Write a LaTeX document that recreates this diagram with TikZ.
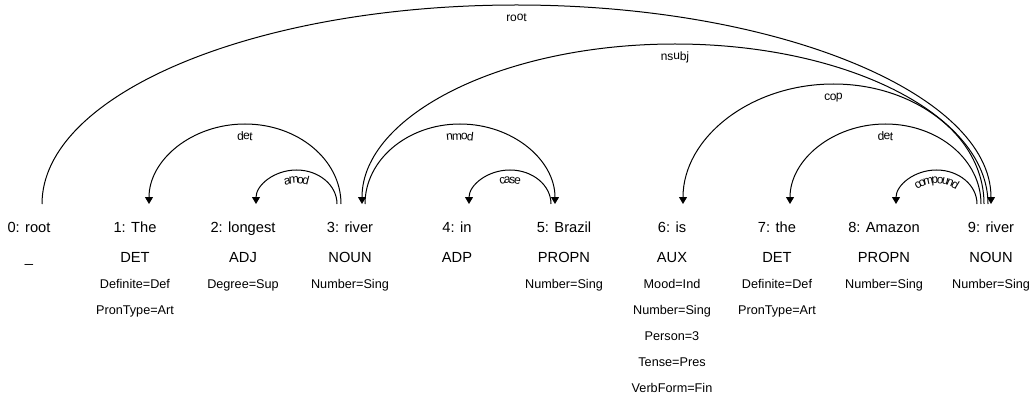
\documentclass[tikz,border=0pt]{standalone}
\usepackage{fontspec}
\setmainfont{Liberation Sans}
\usetikzlibrary{arrows.meta,decorations.text}
\newcommand\labfont{\fontsize{9}{9}\selectfont}
\begin{document}
\begin{tikzpicture}[x=0.75pt,y=-0.75pt,
  word/.style={inner sep=0pt,anchor=base,font=\fontsize{11}{13}\selectfont},
  feat/.style={inner sep=0pt,anchor=base,font=\fontsize{9.5}{11}\selectfont},
  dep/.style={line width=0.75pt,-{Triangle[length=5.25pt,width=6pt]}},
  lab/.style={decorate,decoration={text along path,text align=center,raise=-12pt,text={|\labfont|#1}}},
  slab/.style={decorate,decoration={text along path,text align=center,raise=-10pt,text={|\labfont|#1}}}]
\useasboundingbox (0,0) rectangle (1031,406);
% words
\node[word] (w0) at (29,232) {0: root};
\node[word] (w1) at (135,232) {1: The};
\node[word] (w2) at (243,232) {2: longest};
\node[word] (w3) at (350,232) {3: river};
\node[word] (w4) at (457,232) {4: in};
\node[word] (w5) at (564,232) {5: Brazil};
\node[word] (w6) at (672,232) {6: is};
\node[word] (w7) at (777,232) {7: the};
\node[word] (w8) at (884,232) {8: Amazon};
\node[word] (w9) at (991,232) {9: river};
% POS
\node[word] (p0) at (29,262) {\_};
\node[word] (p1) at (135,262) {DET};
\node[word] (p2) at (243,262) {ADJ};
\node[word] (p3) at (350,262) {NOUN};
\node[word] (p4) at (457,262) {ADP};
\node[word] (p5) at (564,262) {PROPN};
\node[word] (p6) at (672,262) {AUX};
\node[word] (p7) at (777,262) {DET};
\node[word] (p8) at (884,262) {PROPN};
\node[word] (p9) at (991,262) {NOUN};
% features
\node[feat] (f1a) at (135,288) {Definite=Def};
\node[feat] (f1b) at (135,314) {PronType=Art};
\node[feat] (f2a) at (243,288) {Degree=Sup};
\node[feat] (f3a) at (350,288) {Number=Sing};
\node[feat] (f5a) at (564,288) {Number=Sing};
\node[feat] (f6a) at (672,288) {Mood=Ind};
\node[feat] (f6b) at (672,314) {Number=Sing};
\node[feat] (f6c) at (672,340) {Person=3};
\node[feat] (f6d) at (672,366) {Tense=Pres};
\node[feat] (f6e) at (672,392) {VerbForm=Fin};
\node[feat] (f7a) at (777,288) {Definite=Def};
\node[feat] (f7b) at (777,314) {PronType=Art};
\node[feat] (f8a) at (884,288) {Number=Sing};
\node[feat] (f9a) at (991,288) {Number=Sing};
% arc end points
\coordinate (a0) at (42,204);
\coordinate (a1) at (149,204);
\coordinate (a2) at (256,204);
\coordinate (a3amod) at (337,204);
\coordinate (a3det) at (341,204);
\coordinate (a3in) at (362,204);
\coordinate (a3nmod) at (365,204);
\coordinate (a4) at (469,204);
\coordinate (a5case) at (551,204);
\coordinate (a5in) at (555,204);
\coordinate (a6) at (683,204);
\coordinate (a7) at (790,204);
\coordinate (a8) at (896,204);
\coordinate (a9comp) at (977,204);
\coordinate (a9det) at (981,204);
\coordinate (a9cop) at (984,204);
\coordinate (a9nsubj) at (988,204);
\coordinate (a9in) at (991,204);
% arcs
\draw[dep] (a0) arc[start angle=180,end angle=0,x radius=355.875pt,y radius=149.25pt];
\path[lab=root] (a0) arc[start angle=180,end angle=0,x radius=355.875pt,y radius=149.25pt];
\draw[dep] (a9nsubj) arc[start angle=0,end angle=180,x radius=234.75pt,y radius=120pt];
\path[lab=nsubj] (a3in) arc[start angle=180,end angle=0,x radius=234.75pt,y radius=120pt];
\draw[dep] (a9cop) arc[start angle=0,end angle=180,x radius=112.875pt,y radius=90pt];
\path[lab=cop] (a6) arc[start angle=180,end angle=0,x radius=112.875pt,y radius=90pt];
\draw[dep] (a9det) arc[start angle=0,end angle=180,x radius=71.625pt,y radius=60pt];
\path[lab=det] (a7) arc[start angle=180,end angle=0,x radius=71.625pt,y radius=60pt];
\draw[dep] (a9comp) arc[start angle=0,end angle=180,x radius=30.375pt,y radius=25.5pt];
\path[slab=compound] (a8) arc[start angle=180,end angle=0,x radius=30.375pt,y radius=25.5pt];
\draw[dep] (a3det) arc[start angle=0,end angle=180,x radius=72pt,y radius=60pt];
\path[lab=det] (a1) arc[start angle=180,end angle=0,x radius=72pt,y radius=60pt];
\draw[dep] (a3amod) arc[start angle=0,end angle=180,x radius=30.375pt,y radius=25.5pt];
\path[slab=amod] (a2) arc[start angle=180,end angle=0,x radius=30.375pt,y radius=25.5pt];
\draw[dep] (a3nmod) arc[start angle=180,end angle=0,x radius=71.25pt,y radius=60pt];
\path[lab=nmod] (a3nmod) arc[start angle=180,end angle=0,x radius=71.25pt,y radius=60pt];
\draw[dep] (a5case) arc[start angle=0,end angle=180,x radius=30.75pt,y radius=25.5pt];
\path[slab=case] (a4) arc[start angle=180,end angle=0,x radius=30.75pt,y radius=25.5pt];
\end{tikzpicture}
\end{document}
